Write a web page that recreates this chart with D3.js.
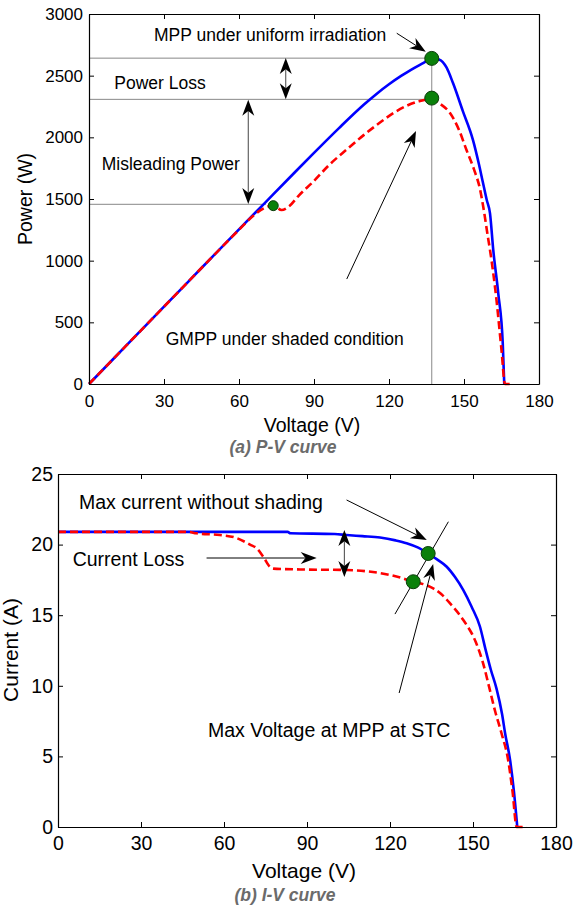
<!DOCTYPE html>
<html>
<head>
<meta charset="utf-8">
<script src="https://cdn.jsdelivr.net/npm/d3@7"></script>
<style>
  body { margin: 0; background: #fff; }
  svg { display: block; font-family: Arial, "Liberation Sans", sans-serif; }
</style>
</head>
<body>
<div id="chart"></div>
<script>
// tick values
const voltTicks = [0, 30, 60, 90, 120, 150, 180];
const powerTicks = [0, 500, 1000, 1500, 2000, 2500, 3000];
const currentTicks = [0, 5, 10, 15, 20, 25];

// P-V curve, uniform irradiation  [voltage V, power W]
const pvUniform = [
  [0, 0], [10, 209], [20, 418], [30, 627], [40, 836], [50, 1045], [60, 1254], [70, 1461],
  [80, 1668], [90, 1874], [100, 2075], [110, 2266], [115, 2352], [120, 2430], [125, 2500],
  [130, 2561], [134, 2606], [137, 2641], [140, 2632], [143, 2567], [145.6, 2440],
  [149.5, 2215], [153.6, 1978], [156, 1780], [157.5, 1640], [159.1, 1492], [160.4, 1384],
  [161.7, 1087], [163.7, 735], [165.5, 330], [166.1, 0]
];

// P-V curve, shaded condition
const pvShaded = [
  [0, 0], [10, 209], [20, 418], [30, 627], [40, 836], [50, 1045], [60, 1250], [66, 1370],
  [70, 1425], [73.7, 1446], [77, 1411], [80, 1440], [84, 1530], [89.7, 1640], [96, 1775],
  [103, 1900], [110, 2020], [116.4, 2120], [122, 2200], [127, 2255], [132, 2292], [137, 2310],
  [140.5, 2270], [144.4, 2197], [148, 2060], [151, 1897], [154, 1740], [156.4, 1580],
  [158, 1400], [159.5, 1200], [160.4, 1087], [163, 681], [165, 276], [166.4, 0], [169, 0]
];

// marked maxima on the P-V plot  [V, W, radius]
const pvPoints = [[137.1, 2640, 7], [137.1, 2318, 7], [73.7, 1446, 5]];

// I-V curve, uniform irradiation  [voltage V, current A]
const ivUniform = [
  [0, 20.9], [40, 20.9], [83, 20.9], [84, 20.8], [100, 20.75], [104.3, 20.68], [110, 20.6],
  [116.4, 20.5], [122, 20.3], [126, 20.1], [130, 19.8], [133.8, 19.37], [137, 18.95],
  [140.5, 18.43], [143.5, 17.7], [146.5, 16.78], [149.5, 15.6], [152.5, 14.2], [154.5, 12.6],
  [156.5, 11.1], [158.5, 9.8], [160.5, 8.0], [161.6, 6.64], [163.4, 4.75],
  [164.8, 2.5], [166, 0]
];

// I-V curve, shaded condition
const ivShaded = [
  [0, 20.9], [47, 20.9], [50, 20.8], [58.5, 20.68], [64, 20.5], [69.4, 20.0], [72, 19.7],
  [74.2, 19.14], [76.6, 18.43], [77.8, 18.3], [87.5, 18.24], [104.3, 18.2], [112, 18.1],
  [120, 17.85], [124, 17.65], [128.4, 17.37], [132, 17.2], [135.6, 16.9], [138.5, 16.5],
  [141.7, 15.84], [146.5, 14.66], [151, 13.1], [153.5, 11.7], [156.1, 9.7], [158, 8.2],
  [160.3, 6.64], [162.7, 4.75], [164.3, 2.5], [165.8, 0], [169.4, 0]
];

// marked points on the I-V plot
const ivPoints = [[133.8, 19.37, 7], [128.4, 17.37, 7]];

// annotations (data units)
const pvGuides = [[0, 2642, 137.1, 2642], [0, 2308, 137.1, 2308], [0, 1457, 70.8, 1457], [137.1, 2640, 137.1, 0]];
const pvArrows = [
  [123.1, 2844, 134.7, 2694, false],
  [103.1, 851, 130.8, 2051, false],
  [78.7, 2308, 78.7, 2643, true],
  [63.7, 1460, 63.7, 2305, true]
];
const pvTexts = [
  ["MPP under uniform irradiation", 26, 2781],
  ["Power Loss", 10.1, 2388],
  ["Misleading Power", 5.1, 1739],
  ["GMPP under shaded condition", 30.7, 320]
];

const ivGuides = [[121.8, 15.08, 141.1, 21.62]];
const ivArrows = [
  [104.3, 23.16, 133.3, 20.33, false],
  [53.7, 19.05, 93.5, 19.05, false],
  [103.5, 17.7, 103.5, 21.03, true],
  [123.3, 9.49, 135.6, 18.63, false]
];
const ivTexts = [
  ["Max current without shading", 7.6, 22.54],
  ["Current Loss", 5.3, 18.48],
  ["Max Voltage at MPP at STC", 54.2, 6.37]
];

const svg = d3.select("#chart").append("svg")
  .attr("width", 578)
  .attr("height", 906);

// filled arrow head with notched back, tip at (x2,y2)
function arrowHead(g, x1, y1, x2, y2) {
  const L = 16, W = 6;
  const a = Math.atan2(y2 - y1, x2 - x1) * 180 / Math.PI;
  g.append("path")
    .attr("d", `M0,0L${-L},${-W}L${-0.7 * L},0L${-L},${W}Z`)
    .attr("transform", `translate(${x2},${y2}) rotate(${a})`)
    .attr("fill", "#000");
}

function drawArrow(g, x1, y1, x2, y2, both) {
  const len = Math.hypot(x2 - x1, y2 - y1);
  const ux = (x2 - x1) / len, uy = (y2 - y1) / len;
  const back = 0.7 * 16;
  const sx = both ? x1 + ux * back : x1;
  const sy = both ? y1 + uy * back : y1;
  g.append("line")
    .attr("x1", sx).attr("y1", sy)
    .attr("x2", x2 - ux * back).attr("y2", y2 - uy * back)
    .attr("stroke", both ? "#444" : "#000")
    .attr("stroke-width", 1);
  arrowHead(g, x1, y1, x2, y2);
  if (both) arrowHead(g, x2, y2, x1, y1);
}

function drawPlot(cfg) {
  const x = d3.scaleLinear().domain([0, 180]).range(cfg.xr);
  const y = d3.scaleLinear().domain(cfg.yd).range(cfg.yr);
  const g = svg.append("g");

  // guide lines
  g.selectAll(".guide")
    .data(cfg.guides)
    .enter().append("line")
    .attr("x1", d => x(d[0])).attr("y1", d => y(d[1]))
    .attr("x2", d => x(d[2])).attr("y2", d => y(d[3]))
    .attr("stroke", cfg.guideColor)
    .attr("stroke-width", 1);

  const line = d3.line()
    .x(d => x(d[0])).y(d => y(d[1]))
    .curve(d3.curveMonotoneX);

  // blue first, red dashes on top
  g.append("path")
    .datum(cfg.uniform)
    .attr("d", line)
    .attr("fill", "none")
    .attr("stroke", "#0000ff")
    .attr("stroke-width", 2.6);

  g.append("path")
    .datum(cfg.shaded)
    .attr("d", line)
    .attr("fill", "none")
    .attr("stroke", "#ff0000")
    .attr("stroke-width", 2.6)
    .attr("stroke-dasharray", "8,4");

  g.selectAll(".pt")
    .data(cfg.points)
    .enter().append("circle")
    .attr("cx", d => x(d[0]))
    .attr("cy", d => y(d[1]))
    .attr("r", d => d[2])
    .attr("fill", "#0a800a")
    .attr("stroke", "#0b3d0b")
    .attr("stroke-width", 1);

  cfg.arrows.forEach(a => drawArrow(g, x(a[0]), y(a[1]), x(a[2]), y(a[3]), a[4]));

  g.selectAll(".note")
    .data(cfg.texts)
    .enter().append("text")
    .attr("x", d => x(d[1]))
    .attr("y", d => y(d[2]))
    .attr("font-size", cfg.noteSize)
    .attr("fill", "#000")
    .text(d => d[0]);

  // axes with inward ticks on all four sides
  const [x0, x1] = cfg.xr, [y0, y1] = cfg.yr;
  const fmt = d3.format("d");
  const bottom = g.append("g").attr("transform", `translate(0,${y0})`)
    .call(d3.axisBottom(x).tickValues(voltTicks).tickFormat(fmt).tickSize(-5).tickSizeOuter(0).tickPadding(cfg.xPad));
  const left = g.append("g").attr("transform", `translate(${x0},0)`)
    .call(d3.axisLeft(y).tickValues(cfg.yTicks).tickFormat(fmt).tickSize(-5).tickSizeOuter(0).tickPadding(cfg.yPad));
  g.append("g").attr("transform", `translate(0,${y1})`)
    .call(d3.axisTop(x).tickValues(voltTicks).tickSize(-5).tickSizeOuter(0).tickFormat(""));
  g.append("g").attr("transform", `translate(${x1},0)`)
    .call(d3.axisRight(y).tickValues(cfg.yTicks).tickSize(-5).tickSizeOuter(0).tickFormat(""));

  g.selectAll(".domain").attr("stroke", "#000").attr("stroke-width", 1.2);
  g.selectAll(".tick line").attr("stroke", "#000");
  [bottom, left].forEach(a => a.selectAll("text")
    .attr("font-size", cfg.tickSize)
    .attr("font-family", "Arial, 'Liberation Sans', sans-serif")
    .attr("fill", "#000"));

  g.append("text")
    .attr("x", cfg.xLabel[0]).attr("y", cfg.xLabel[1])
    .attr("text-anchor", "middle")
    .attr("font-size", cfg.labelSize)
    .text("Voltage (V)");

  g.append("text")
    .attr("transform", `translate(${cfg.yLabel[0]},${cfg.yLabel[1]}) rotate(-90)`)
    .attr("text-anchor", "middle")
    .attr("font-size", cfg.labelSize)
    .text(cfg.yTitle);

  g.append("text")
    .attr("x", cfg.caption[0]).attr("y", cfg.caption[1])
    .attr("text-anchor", "middle")
    .attr("font-size", cfg.captionSize)
    .attr("font-weight", "bold")
    .attr("font-style", "italic")
    .attr("fill", "#6b6b6b")
    .text(cfg.captionText);
}

drawPlot({
  xr: [89, 539], yd: [0, 3000], yr: [384, 14], yTicks: powerTicks,
  uniform: pvUniform, shaded: pvShaded, points: pvPoints,
  guides: pvGuides, arrows: pvArrows, texts: pvTexts, guideColor: "#888",
  noteSize: 17.5, tickSize: 17, labelSize: 19.5, captionSize: 17.5,
  xPad: 11, yPad: 6,
  xLabel: [312, 432], yLabel: [32, 199], yTitle: "Power (W)",
  caption: [283, 453], captionText: "(a) P-V curve"
});

drawPlot({
  xr: [58, 556], yd: [0, 25], yr: [827, 474], yTicks: currentTicks,
  uniform: ivUniform, shaded: ivShaded, points: ivPoints,
  guides: ivGuides, arrows: ivArrows, texts: ivTexts, guideColor: "#000",
  noteSize: 19.5, tickSize: 19.5, labelSize: 21, captionSize: 17.5,
  xPad: 9, yPad: 5,
  xLabel: [304, 878], yLabel: [18, 650], yTitle: "Current (A)",
  caption: [285, 901], captionText: "(b) I-V curve"
});
</script>
</body>
</html>
